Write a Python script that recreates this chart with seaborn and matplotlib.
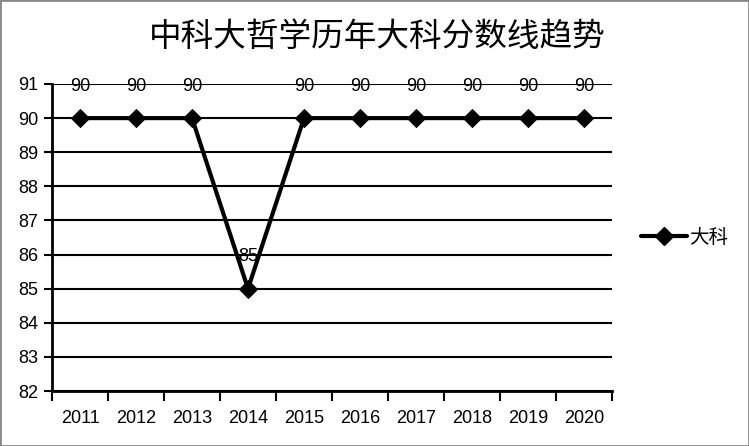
import matplotlib
matplotlib.use("Agg")
import matplotlib.pyplot as plt
import seaborn as sns
import pandas as pd
from matplotlib.patches import Rectangle
from matplotlib.lines import Line2D

years = ["2011", "2012", "2013", "2014", "2015", "2016", "2017", "2018", "2019", "2020"]
scores = [90, 90, 90, 85, 90, 90, 90, 90, 90, 90]
series_name = "大科"
title = "中科大哲学历年大科分数线趋势"
yticks = [82, 83, 84, 85, 86, 87, 88, 89, 90, 91]

sns.set_theme(style="white")
plt.rcParams['font.family'] = ['Noto Sans CJK SC', 'DejaVu Sans']
plt.rcParams['text.color'] = 'black'
plt.rcParams['xtick.color'] = 'black'
plt.rcParams['ytick.color'] = 'black'
num_font = ['Liberation Sans', 'DejaVu Sans']

df = pd.DataFrame({"year": years, "score": scores})

fig = plt.figure(figsize=(7.49, 4.46), dpi=100)
ax = fig.add_axes([52/749, 1-391/446, (612-52)/749, (391-84)/446])

sns.lineplot(data=df, x="year", y="score", ax=ax, color="black", linewidth=3,
             marker="D", markersize=9, markeredgecolor="black", sort=False)

ax.set_ylim(82, 91)
ax.set_yticks(yticks)
ax.set_xlim(-0.5, len(years) - 0.5)
ax.set_xticks([i - 0.5 for i in range(len(years) + 1)])
ax.set_xticklabels([])
ax.set_xticks(range(len(years)), minor=True)
ax.set_xticklabels(years, minor=True)
ax.tick_params(axis="x", which="major", length=7, width=1.5, color="black", direction="out", bottom=True)
ax.tick_params(axis="x", which="minor", length=0, pad=14, labelsize=13, labelcolor="black")
ax.tick_params(axis="y", length=6, width=1.5, color="black", direction="out", left=True,
               labelsize=13, pad=4, labelcolor="black")
ax.set_xlabel("")
ax.set_ylabel("")
for lbl in ax.get_xticklabels(minor=True) + ax.get_yticklabels():
    lbl.set_family(num_font)

ax.yaxis.grid(True, color="black", linewidth=1.5)
ax.set_axisbelow(True)
for s in ["top", "right"]:
    ax.spines[s].set_visible(False)
for s in ["left", "bottom"]:
    ax.spines[s].set_color("black")
    ax.spines[s].set_linewidth(2)

for i, v in enumerate(scores):
    ax.annotate(str(v), (i, v), xytext=(0, 17), textcoords="offset points",
                ha="center", va="bottom", fontsize=13, color="black", family=num_font)

ax.legend(handles=[Line2D([0], [0], color="black", linewidth=3, marker="D", markersize=9)],
          labels=[series_name], loc="center left", bbox_to_anchor=(1.02, 0.5),
          frameon=False, fontsize=14, handlelength=2.4, handletextpad=0.1)

fig.text(377/749, 1-37/446, title, ha="center", va="center", fontsize=23.5, color="black")

fig.patches.append(Rectangle((0, 0), 1, 1, transform=fig.transFigure, fill=False,
                             edgecolor="#888888", linewidth=2))

fig.savefig("out.png", dpi=100)
